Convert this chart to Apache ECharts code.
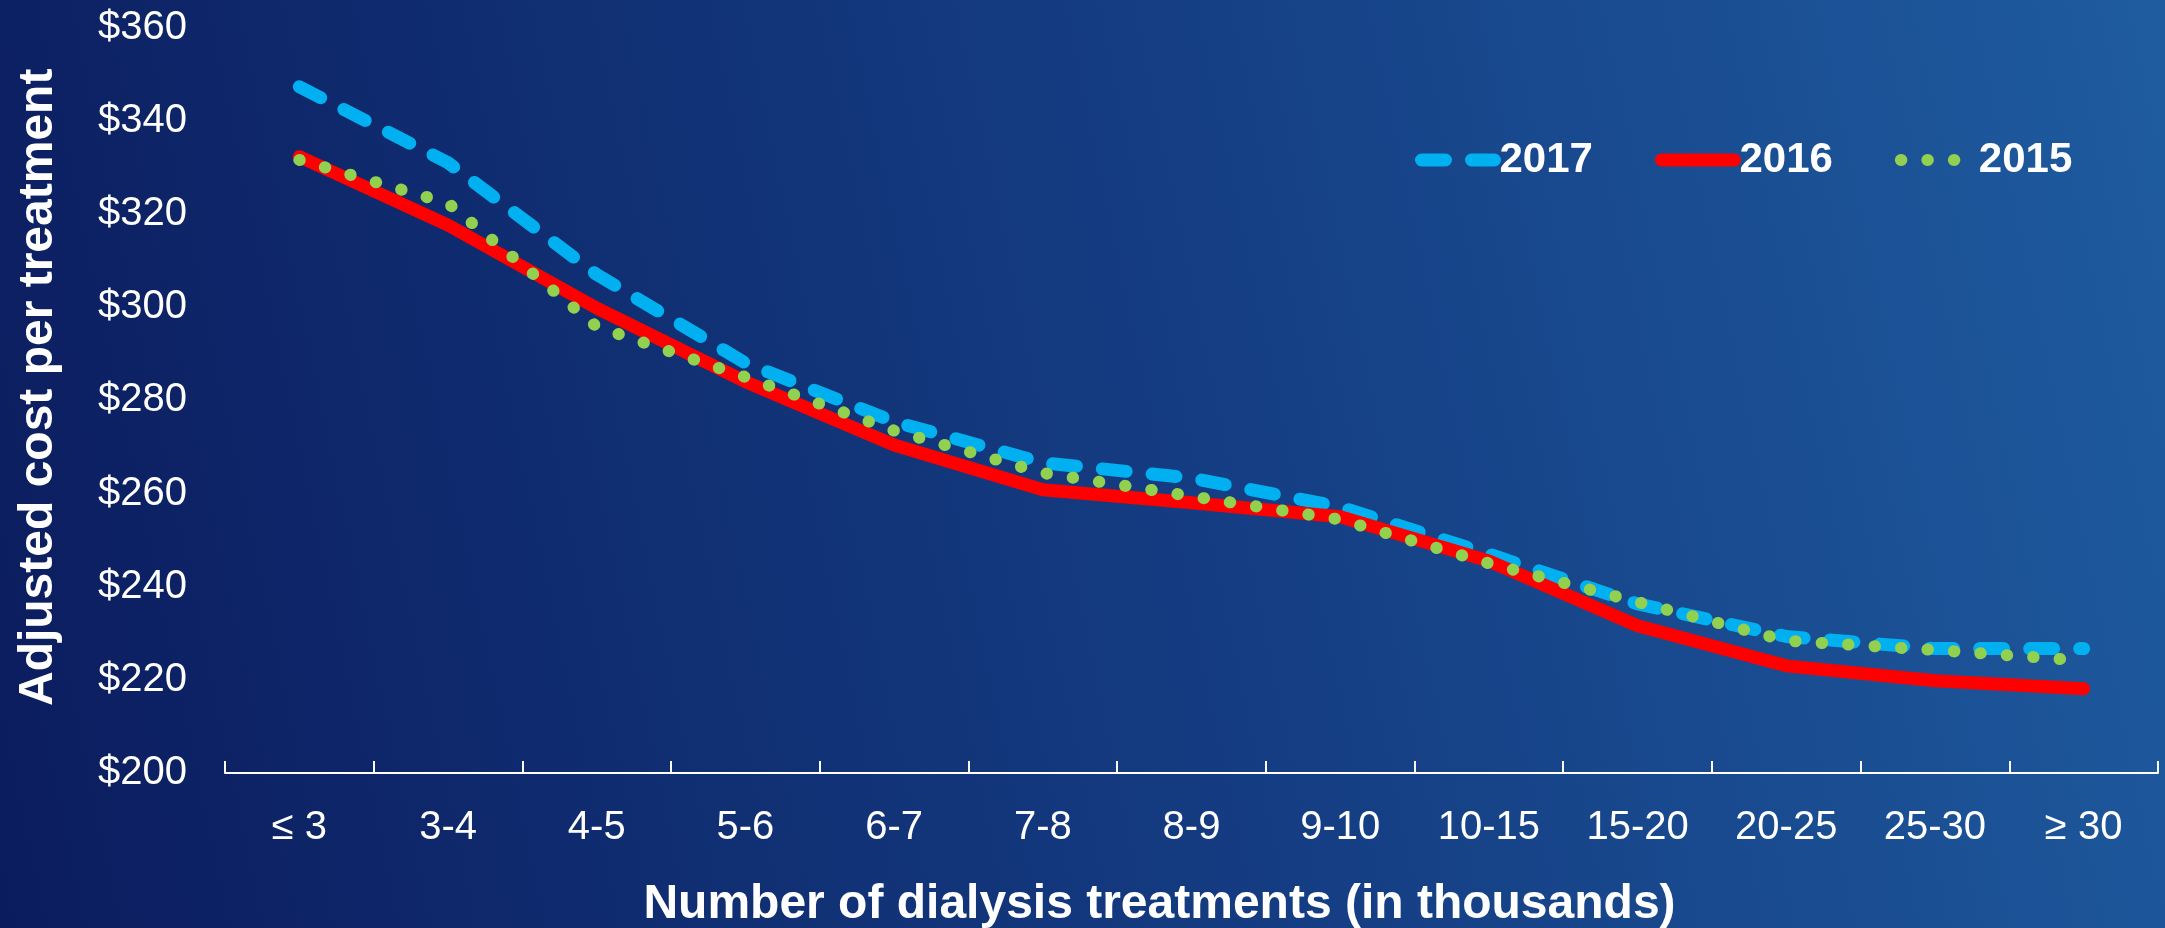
<!DOCTYPE html>
<html>
<head>
<meta charset="utf-8">
<script src="https://cdn.jsdelivr.net/npm/echarts@6/dist/echarts.min.js"></script>
<style>
html,body{margin:0;padding:0;width:2165px;height:928px;overflow:hidden;background:#153e84;}
#chart{width:2165px;height:928px;}
</style>
</head>
<body>
<div id="chart"></div>
<script>
const categories = ['≤ 3','3-4','4-5','5-6','6-7','7-8','8-9','9-10','10-15','15-20','20-25','25-30','≥ 30'];
const values2017 = [347.3, 331, 307, 288, 275.4, 266.6, 263.3, 257.1, 247, 236.3, 229.3, 226.7, 226.7];
const values2016 = [332.3, 317.6, 299.8, 284, 270.4, 260.8, 258, 255, 245.5, 231.6, 223, 219.8, 218.1];
const values2015 = [331.6, 322.3, 295.8, 285, 273.5, 264.4, 259.4, 254.4, 245, 236.7, 228.4, 226.4, 224.1];
const yTicks = [200, 220, 240, 260, 280, 300, 320, 340, 360];

const FONT = "'Liberation Sans', Arial, sans-serif";
const chart = echarts.init(document.getElementById('chart'), null, {renderer: 'canvas'});

chart.setOption({
  backgroundColor: new echarts.graphic.LinearGradient(0, 1, 1.19, 0.42, [
    {offset: 0, color: '#0b1c5e'},
    {offset: 0.5, color: '#153e84'},
    {offset: 1, color: '#2265a8'}
  ]),
  animation: false,
  textStyle: {fontFamily: FONT},
  legend: {
    left: 1410,
    top: 134,
    itemWidth: 73,
    itemHeight: 14,
    itemGap: 62,
    data: ['2017', '2016', '2015'],
    itemStyle: {opacity: 0},
    lineStyle: {width: 'inherit', type: 'inherit', cap: 'inherit'},
    textStyle: {color: '#ffffff', fontSize: 42, fontWeight: 'bold', fontFamily: FONT}
  },
  grid: {left: 225, right: 7, top: 27.6, bottom: 155, containLabel: false, outerBoundsMode: 'none'},
  xAxis: {
    type: 'category',
    data: categories,
    boundaryGap: true,
    name: 'Number of dialysis treatments (in thousands)',
    nameLocation: 'middle',
    nameGap: 108,
    nameTextStyle: {color: '#ffffff', fontSize: 48, fontWeight: 'bold', fontFamily: FONT, padding: [0, 64, 0, 0]},
    axisLine: {show: true, lineStyle: {color: '#ffffff', width: 2}},
    axisTick: {show: true, inside: true, length: 12, alignWithLabel: false, lineStyle: {color: '#ffffff', width: 2}},
    axisLabel: {color: '#ffffff', fontSize: 40, fontFamily: FONT, margin: 35, interval: 0},
    splitLine: {show: false}
  },
  yAxis: {
    type: 'value',
    min: yTicks[0],
    max: yTicks[yTicks.length - 1],
    interval: yTicks[1] - yTicks[0],
    name: 'Adjusted cost per treatment',
    nameLocation: 'middle',
    nameGap: 162,
    nameTextStyle: {color: '#ffffff', fontSize: 48, fontWeight: 'bold', fontFamily: FONT, padding: [0, 0, 0, 26]},
    axisLine: {show: false},
    axisTick: {show: false},
    splitLine: {show: false},
    axisLabel: {color: '#ffffff', fontSize: 40, fontFamily: FONT, margin: 38, formatter: v => '$' + v}
  },
  series: [
    {
      name: '2017', type: 'line', data: values2017, symbol: 'none', z: 2,
      itemStyle: {color: '#00b0f0'},
      lineStyle: {color: '#00b0f0', width: 13, type: [24, 26], cap: 'round', join: 'round'}
    },
    {
      name: '2016', type: 'line', data: values2016, symbol: 'none', z: 3,
      itemStyle: {color: '#ff0000'},
      lineStyle: {color: '#ff0000', width: 13, type: 'solid', cap: 'round', join: 'round'}
    },
    {
      name: '2015', type: 'line', data: values2015, symbol: 'none', z: 4,
      itemStyle: {color: '#92d050'},
      lineStyle: {color: '#92d050', width: 12, type: [0.5, 26], cap: 'round', join: 'round'}
    }
  ]
});
</script>
</body>
</html>
